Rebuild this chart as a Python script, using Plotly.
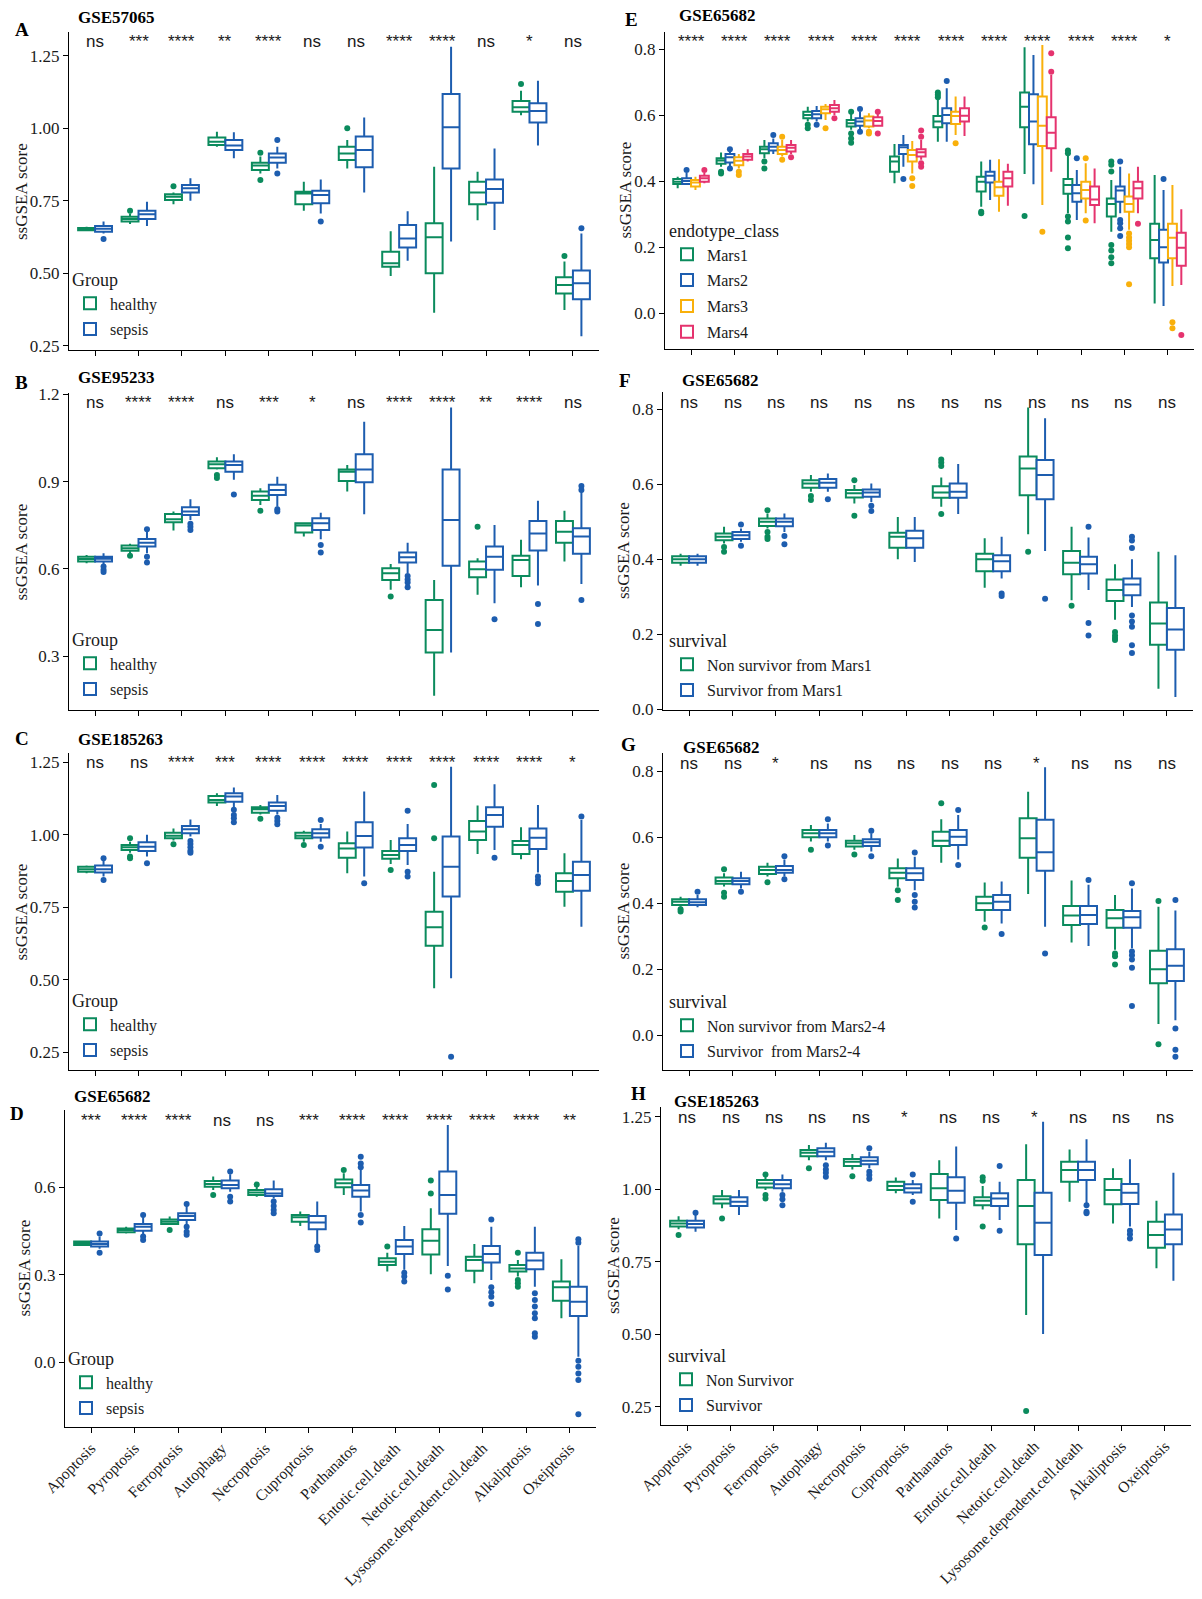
import plotly.graph_objects as go

# ---------------------------------------------------------------- data
CATEGORIES = ["Apoptosis", "Pyroptosis", "Ferroptosis", "Autophagy", "Necroptosis",
              "Cuproptosis", "Parthanatos", "Entotic.cell.death", "Netotic.cell.death",
              "Lysosome.dependent.cell.death", "Alkaliptosis", "Oxeiptosis"]

# each row: [lower whisker, q1, median, q3, upper whisker] for one category
A_healthy = [[0.645, 0.648, 0.652, 0.656, 0.660], [0.670, 0.678, 0.687, 0.695, 0.706],
             [0.738, 0.752, 0.764, 0.772, 0.778], [0.936, 0.942, 0.953, 0.968, 0.988],
             [0.844, 0.856, 0.871, 0.881, 0.902], [0.715, 0.738, 0.775, 0.781, 0.815],
             [0.861, 0.890, 0.913, 0.936, 0.959], [0.490, 0.522, 0.534, 0.574, 0.645],
             [0.364, 0.500, 0.624, 0.672, 0.867], [0.683, 0.738, 0.778, 0.815, 0.850],
             [1.045, 1.057, 1.072, 1.094, 1.129], [0.373, 0.430, 0.459, 0.486, 0.540]]
A_healthy_out = [(1, 0.715), (2, 0.800), (4, 0.915), (4, 0.821), (6, 1.000), (10, 1.152), (11, 0.559)]
A_sepsis = [[0.637, 0.643, 0.653, 0.663, 0.678], [0.663, 0.687, 0.703, 0.715, 0.746],
            [0.750, 0.778, 0.793, 0.804, 0.827], [0.896, 0.925, 0.940, 0.959, 0.986],
            [0.861, 0.881, 0.899, 0.913, 0.936], [0.706, 0.741, 0.770, 0.784, 0.823],
            [0.778, 0.865, 0.925, 0.971, 1.037], [0.543, 0.589, 0.620, 0.666, 0.714],
            [0.609, 0.861, 1.003, 1.118, 1.281], [0.649, 0.743, 0.790, 0.823, 0.930],
            [0.940, 1.020, 1.059, 1.086, 1.164], [0.283, 0.410, 0.465, 0.509, 0.637]]
A_sepsis_out = [(0, 0.618), (4, 0.959), (4, 0.844), (5, 0.678), (11, 0.655)]
A_sig = ["ns", "***", "****", "**", "****", "ns", "ns", "****", "****", "ns", "*", "ns"]

B_healthy = [[0.619, 0.625, 0.634, 0.642, 0.648], [0.654, 0.662, 0.671, 0.680, 0.686],
             [0.732, 0.760, 0.771, 0.789, 0.797], [0.942, 0.946, 0.960, 0.969, 0.984],
             [0.820, 0.837, 0.851, 0.866, 0.877], [0.711, 0.725, 0.749, 0.757, 0.759],
             [0.866, 0.902, 0.934, 0.942, 0.957], [0.528, 0.562, 0.585, 0.602, 0.617],
             [0.164, 0.313, 0.390, 0.493, 0.562], [0.511, 0.571, 0.599, 0.625, 0.637],
             [0.537, 0.576, 0.631, 0.645, 0.700], [0.625, 0.690, 0.728, 0.765, 0.800]]
B_healthy_out = [(1, 0.645), (3, 0.923), (3, 0.912), (4, 0.800), (7, 0.505), (9, 0.745)]
B_sepsis = [[0.617, 0.625, 0.635, 0.642, 0.654], [0.654, 0.677, 0.690, 0.703, 0.736],
            [0.768, 0.785, 0.797, 0.812, 0.839], [0.906, 0.934, 0.957, 0.969, 0.994],
            [0.814, 0.854, 0.871, 0.889, 0.917], [0.702, 0.734, 0.757, 0.774, 0.793],
            [0.788, 0.898, 0.942, 0.994, 1.106], [0.585, 0.622, 0.640, 0.656, 0.690],
            [0.313, 0.611, 0.768, 0.942, 1.155], [0.482, 0.597, 0.642, 0.677, 0.751],
            [0.543, 0.663, 0.722, 0.765, 0.834], [0.548, 0.652, 0.711, 0.740, 0.871]]
B_sepsis_out = [(0, 0.608), (0, 0.597), (0, 0.589), (1, 0.642), (1, 0.622), (1, 0.736),
                (2, 0.755), (2, 0.745), (2, 0.734), (3, 0.856), (4, 0.805), (4, 0.797),
                (5, 0.682), (5, 0.656), (7, 0.576), (7, 0.564), (7, 0.553), (7, 0.537),
                (9, 0.427), (10, 0.479), (10, 0.411), (11, 0.885), (11, 0.871), (11, 0.493)]
B_sig = ["ns", "****", "****", "ns", "***", "*", "ns", "****", "****", "**", "****", "ns"]

C_healthy = [[0.867, 0.873, 0.881, 0.890, 0.894], [0.938, 0.948, 0.957, 0.965, 0.976],
             [0.980, 0.988, 0.997, 1.007, 1.022], [1.099, 1.111, 1.120, 1.134, 1.143],
             [1.070, 1.076, 1.088, 1.095, 1.103], [0.976, 0.988, 0.997, 1.007, 1.014],
             [0.867, 0.921, 0.953, 0.971, 1.011], [0.899, 0.917, 0.930, 0.944, 0.982],
             [0.471, 0.617, 0.681, 0.735, 0.873], [0.934, 0.982, 1.011, 1.048, 1.101],
             [0.916, 0.934, 0.965, 0.979, 1.026], [0.752, 0.804, 0.841, 0.867, 0.936]]
C_healthy_out = [(1, 0.988), (1, 0.925), (1, 0.919), (2, 0.967), (4, 1.055), (5, 0.965),
                 (7, 0.879), (8, 1.172), (8, 0.988)]
C_sepsis = [[0.856, 0.870, 0.881, 0.894, 0.913], [0.925, 0.944, 0.959, 0.974, 1.000],
            [0.994, 1.005, 1.019, 1.030, 1.053], [1.095, 1.114, 1.132, 1.143, 1.163],
            [1.070, 1.083, 1.099, 1.111, 1.137], [0.976, 0.991, 1.005, 1.019, 1.037],
            [0.856, 0.956, 0.996, 1.043, 1.149], [0.896, 0.944, 0.965, 0.988, 1.037],
            [0.505, 0.787, 0.890, 0.994, 1.235], [0.948, 1.028, 1.068, 1.095, 1.174],
            [0.870, 0.951, 0.990, 1.022, 1.103], [0.683, 0.807, 0.861, 0.907, 1.051]]
C_sepsis_out = [(0, 0.919), (0, 0.844), (1, 0.902), (2, 0.979), (2, 0.968), (2, 0.957),
                (2, 0.945), (2, 0.938), (3, 1.086), (3, 1.068), (3, 1.057), (3, 1.043),
                (4, 1.059), (4, 1.048), (4, 1.036), (5, 1.051), (5, 0.959), (6, 0.833),
                (7, 1.083), (7, 0.873), (7, 0.856), (8, 0.235), (9, 0.921), (10, 0.856),
                (10, 0.844), (10, 0.833), (11, 1.063)]
C_sig = ["ns", "ns", "****", "***", "****", "****", "****", "****", "****", "****", "****", "*"]

D_healthy = [[0.400, 0.402, 0.408, 0.414, 0.417], [0.442, 0.446, 0.454, 0.459, 0.465],
             [0.471, 0.474, 0.482, 0.490, 0.500], [0.591, 0.602, 0.611, 0.622, 0.637],
             [0.568, 0.574, 0.582, 0.591, 0.602], [0.467, 0.482, 0.497, 0.505, 0.517],
             [0.574, 0.600, 0.614, 0.627, 0.648], [0.311, 0.334, 0.345, 0.357, 0.376],
             [0.302, 0.370, 0.417, 0.456, 0.528], [0.271, 0.314, 0.351, 0.362, 0.406],
             [0.294, 0.311, 0.322, 0.334, 0.351], [0.151, 0.211, 0.257, 0.277, 0.353]]
D_healthy_out = [(2, 0.454), (3, 0.574), (4, 0.610), (6, 0.659), (7, 0.397), (8, 0.623),
                 (8, 0.579), (10, 0.376), (10, 0.282), (10, 0.271), (10, 0.259)]
D_sepsis = [[0.389, 0.397, 0.406, 0.414, 0.431], [0.440, 0.451, 0.465, 0.474, 0.497],
            [0.474, 0.488, 0.502, 0.511, 0.536], [0.585, 0.597, 0.608, 0.623, 0.645],
            [0.562, 0.570, 0.579, 0.593, 0.623], [0.402, 0.456, 0.479, 0.502, 0.551],
            [0.517, 0.568, 0.589, 0.608, 0.659], [0.317, 0.371, 0.397, 0.419, 0.467],
            [0.330, 0.509, 0.574, 0.654, 0.814], [0.282, 0.342, 0.371, 0.399, 0.465],
            [0.259, 0.319, 0.349, 0.376, 0.465], [0.019, 0.159, 0.208, 0.259, 0.399]]
D_sepsis_out = [(0, 0.442), (0, 0.376), (1, 0.505), (1, 0.431), (1, 0.419), (2, 0.543),
                (2, 0.465), (2, 0.448), (2, 0.437), (3, 0.654), (3, 0.568), (3, 0.551),
                (4, 0.551), (4, 0.536), (4, 0.522), (4, 0.511), (5, 0.397), (5, 0.385),
                (6, 0.705), (6, 0.682), (6, 0.669), (6, 0.505), (6, 0.479), (7, 0.307),
                (7, 0.294), (7, 0.277), (8, 0.297), (8, 0.250), (9, 0.490), (9, 0.257),
                (9, 0.240), (9, 0.225), (9, 0.200), (10, 0.237), (10, 0.214), (10, 0.191),
                (10, 0.168), (10, 0.151), (10, 0.100), (10, 0.088), (11, 0.422), (11, 0.410),
                (11, 0.005), (11, -0.015), (11, -0.038), (11, -0.061), (11, -0.178)]
D_sig = ["***", "****", "****", "ns", "ns", "***", "****", "****", "****", "****", "****", "**"]

E_mars1 = [[0.379, 0.392, 0.399, 0.407, 0.414], [0.444, 0.453, 0.463, 0.470, 0.487],
           [0.470, 0.485, 0.497, 0.505, 0.525], [0.581, 0.591, 0.601, 0.611, 0.626],
           [0.556, 0.566, 0.576, 0.586, 0.606], [0.394, 0.429, 0.460, 0.475, 0.513],
           [0.520, 0.564, 0.581, 0.598, 0.646], [0.323, 0.369, 0.399, 0.414, 0.460],
           [0.422, 0.564, 0.626, 0.669, 0.806], [0.303, 0.362, 0.389, 0.407, 0.477],
           [0.247, 0.293, 0.331, 0.348, 0.404], [0.030, 0.167, 0.222, 0.271, 0.419]]
E_mars1_out = [(1, 0.429), (1, 0.424), (2, 0.460), (2, 0.439), (3, 0.571), (3, 0.561),
               (4, 0.611), (4, 0.545), (4, 0.530), (4, 0.517), (6, 0.669), (6, 0.662),
               (6, 0.655), (7, 0.308), (7, 0.303), (8, 0.295), (9, 0.493), (9, 0.485),
               (9, 0.293), (9, 0.278), (9, 0.230), (9, 0.197), (10, 0.460), (10, 0.450),
               (10, 0.430), (10, 0.207), (10, 0.190), (10, 0.170), (10, 0.152)]
E_mars2 = [[0.389, 0.392, 0.401, 0.409, 0.425], [0.444, 0.457, 0.473, 0.483, 0.490],
           [0.483, 0.493, 0.505, 0.515, 0.530], [0.581, 0.591, 0.603, 0.613, 0.628],
           [0.556, 0.568, 0.581, 0.591, 0.610], [0.444, 0.483, 0.503, 0.510, 0.540],
           [0.520, 0.576, 0.601, 0.621, 0.682], [0.343, 0.396, 0.417, 0.429, 0.465],
           [0.391, 0.512, 0.581, 0.664, 0.783], [0.283, 0.338, 0.364, 0.389, 0.434],
           [0.303, 0.338, 0.372, 0.384, 0.444], [0.022, 0.154, 0.200, 0.253, 0.374]]
E_mars2_out = [(0, 0.434), (1, 0.497), (1, 0.439), (2, 0.540), (3, 0.571), (4, 0.619),
               (4, 0.550), (5, 0.407), (6, 0.704), (9, 0.470), (10, 0.460), (10, 0.283),
               (10, 0.273), (10, 0.258), (10, 0.234), (11, 0.407)]
E_mars3 = [[0.374, 0.384, 0.396, 0.404, 0.414], [0.439, 0.449, 0.462, 0.473, 0.483],
           [0.475, 0.483, 0.495, 0.505, 0.525], [0.586, 0.606, 0.618, 0.626, 0.634],
           [0.561, 0.566, 0.584, 0.596, 0.606], [0.424, 0.460, 0.480, 0.495, 0.522],
           [0.540, 0.574, 0.598, 0.611, 0.657], [0.308, 0.356, 0.382, 0.399, 0.467],
           [0.328, 0.507, 0.568, 0.657, 0.813], [0.303, 0.348, 0.374, 0.399, 0.455],
           [0.253, 0.308, 0.331, 0.354, 0.424], [0.083, 0.167, 0.229, 0.271, 0.389]]
E_mars3_out = [(1, 0.429), (1, 0.419), (2, 0.535), (2, 0.465), (3, 0.561), (4, 0.550),
               (4, 0.545), (5, 0.409), (5, 0.386), (6, 0.515), (8, 0.247), (9, 0.470),
               (9, 0.281), (10, 0.242), (10, 0.230), (10, 0.220), (10, 0.210), (10, 0.200),
               (10, 0.088), (11, -0.027), (11, -0.045)]
E_mars4 = [[0.394, 0.399, 0.409, 0.417, 0.425], [0.460, 0.465, 0.475, 0.483, 0.497],
           [0.483, 0.490, 0.502, 0.510, 0.525], [0.601, 0.611, 0.621, 0.631, 0.646],
           [0.566, 0.568, 0.583, 0.594, 0.606], [0.465, 0.475, 0.488, 0.497, 0.525],
           [0.537, 0.581, 0.599, 0.621, 0.657], [0.326, 0.384, 0.409, 0.429, 0.453],
           [0.429, 0.500, 0.547, 0.594, 0.722], [0.273, 0.328, 0.345, 0.384, 0.439],
           [0.303, 0.348, 0.379, 0.399, 0.444], [0.086, 0.144, 0.199, 0.244, 0.315]]
E_mars4_out = [(0, 0.434), (2, 0.473), (3, 0.591), (4, 0.611), (4, 0.545), (5, 0.554),
               (5, 0.535), (5, 0.455), (5, 0.444), (8, 0.788), (8, 0.732), (10, 0.271),
               (11, -0.066)]
E_sig = ["****"] * 11 + ["*"]

F_non = [[0.383, 0.391, 0.400, 0.408, 0.415], [0.442, 0.451, 0.460, 0.469, 0.487],
         [0.482, 0.489, 0.500, 0.509, 0.522], [0.580, 0.591, 0.602, 0.611, 0.625],
         [0.549, 0.565, 0.576, 0.585, 0.598], [0.400, 0.431, 0.460, 0.471, 0.513],
         [0.540, 0.564, 0.578, 0.595, 0.618], [0.324, 0.368, 0.400, 0.415, 0.456],
         [0.467, 0.571, 0.642, 0.674, 0.805], [0.291, 0.360, 0.391, 0.422, 0.487],
         [0.239, 0.289, 0.318, 0.346, 0.387], [0.055, 0.172, 0.229, 0.285, 0.420]]
F_non_out = [(1, 0.433), (1, 0.420), (2, 0.531), (2, 0.473), (2, 0.460), (2, 0.454),
             (3, 0.569), (3, 0.558), (4, 0.611), (4, 0.516), (6, 0.666), (6, 0.658),
             (6, 0.649), (6, 0.521), (8, 0.420), (9, 0.276), (10, 0.206), (10, 0.197),
             (10, 0.190), (10, 0.185)]
F_surv = [[0.383, 0.391, 0.400, 0.408, 0.415], [0.447, 0.454, 0.464, 0.473, 0.482],
          [0.473, 0.488, 0.500, 0.509, 0.522], [0.580, 0.591, 0.604, 0.614, 0.629],
          [0.553, 0.567, 0.578, 0.586, 0.602], [0.393, 0.431, 0.456, 0.476, 0.513],
          [0.521, 0.564, 0.580, 0.602, 0.654], [0.349, 0.368, 0.395, 0.411, 0.460],
          [0.422, 0.560, 0.625, 0.665, 0.776], [0.318, 0.362, 0.387, 0.407, 0.458],
          [0.273, 0.304, 0.333, 0.349, 0.400], [0.033, 0.159, 0.213, 0.270, 0.411]]
F_surv_out = [(1, 0.493), (1, 0.436), (2, 0.462), (2, 0.440), (3, 0.560), (4, 0.543),
              (4, 0.529), (7, 0.309), (7, 0.302), (8, 0.295), (9, 0.487), (9, 0.230),
              (9, 0.197), (10, 0.460), (10, 0.450), (10, 0.430), (10, 0.250), (10, 0.234),
              (10, 0.220), (10, 0.171), (10, 0.150)]
F_sig = ["ns"] * 12

G_non = [[0.389, 0.394, 0.404, 0.411, 0.419], [0.450, 0.458, 0.467, 0.477, 0.490],
         [0.480, 0.488, 0.500, 0.510, 0.522], [0.586, 0.599, 0.611, 0.621, 0.636],
         [0.561, 0.571, 0.581, 0.589, 0.606], [0.449, 0.475, 0.492, 0.505, 0.535],
         [0.522, 0.573, 0.589, 0.616, 0.654], [0.343, 0.379, 0.399, 0.419, 0.462],
         [0.427, 0.537, 0.596, 0.657, 0.737], [0.280, 0.333, 0.362, 0.391, 0.468],
         [0.258, 0.325, 0.354, 0.379, 0.424], [0.033, 0.157, 0.199, 0.255, 0.389]]
G_non_out = [(0, 0.381), (0, 0.374), (1, 0.502), (1, 0.431), (1, 0.419), (2, 0.463),
             (3, 0.561), (4, 0.547), (5, 0.439), (5, 0.409), (6, 0.702), (7, 0.326),
             (10, 0.247), (10, 0.239), (10, 0.214), (11, 0.406), (11, -0.028)]
G_surv = [[0.387, 0.394, 0.402, 0.411, 0.424], [0.444, 0.457, 0.467, 0.475, 0.495],
          [0.480, 0.492, 0.500, 0.512, 0.532], [0.586, 0.599, 0.611, 0.621, 0.641],
          [0.556, 0.573, 0.584, 0.593, 0.611], [0.439, 0.470, 0.490, 0.505, 0.540],
          [0.532, 0.576, 0.601, 0.621, 0.667], [0.338, 0.379, 0.404, 0.424, 0.465],
          [0.328, 0.498, 0.554, 0.652, 0.811], [0.270, 0.336, 0.364, 0.391, 0.455],
          [0.263, 0.325, 0.357, 0.376, 0.444], [0.045, 0.164, 0.210, 0.260, 0.377]]
G_surv_out = [(0, 0.434), (1, 0.434), (2, 0.542), (2, 0.472), (3, 0.654), (3, 0.574),
              (4, 0.619), (4, 0.542), (5, 0.553), (5, 0.424), (5, 0.404), (5, 0.386),
              (6, 0.682), (6, 0.515), (7, 0.306), (8, 0.247), (9, 0.470), (10, 0.460),
              (10, 0.253), (10, 0.242), (10, 0.229), (10, 0.204), (10, 0.088), (11, 0.409),
              (11, 0.020), (11, -0.045), (11, -0.066)]
G_sig = ["ns", "ns", "*", "ns", "ns", "ns", "ns", "ns", "*", "ns", "ns", "ns"]

H_non = [[0.862, 0.871, 0.882, 0.891, 0.907], [0.934, 0.951, 0.965, 0.976, 0.997],
         [0.997, 1.006, 1.020, 1.032, 1.043], [1.100, 1.114, 1.126, 1.135, 1.152],
         [1.068, 1.080, 1.095, 1.104, 1.121], [0.986, 0.997, 1.011, 1.026, 1.040],
         [0.899, 0.963, 1.003, 1.052, 1.100], [0.930, 0.945, 0.960, 0.972, 1.011],
         [0.566, 0.810, 0.942, 1.032, 1.155], [0.957, 1.026, 1.066, 1.095, 1.137],
         [0.882, 0.948, 0.997, 1.035, 1.072], [0.727, 0.798, 0.842, 0.888, 0.960]]
H_non_out = [(0, 0.842), (1, 0.899), (2, 1.051), (2, 0.980), (2, 0.968), (3, 1.072),
             (4, 1.045), (7, 1.041), (7, 1.029), (7, 0.871), (8, 0.235)]
H_surv = [[0.853, 0.868, 0.880, 0.891, 0.911], [0.911, 0.942, 0.957, 0.972, 0.997],
          [0.991, 1.003, 1.017, 1.032, 1.051], [1.100, 1.114, 1.129, 1.141, 1.160],
          [1.072, 1.086, 1.098, 1.110, 1.129], [0.980, 0.989, 1.003, 1.017, 1.032],
          [0.859, 0.953, 0.995, 1.041, 1.147], [0.894, 0.942, 0.968, 0.986, 1.026],
          [0.501, 0.773, 0.884, 0.988, 1.233], [0.949, 1.032, 1.066, 1.095, 1.172],
          [0.871, 0.949, 0.988, 1.018, 1.103], [0.684, 0.810, 0.861, 0.913, 1.057]]
H_surv_out = [(0, 0.919), (2, 0.980), (2, 0.965), (2, 0.945), (3, 1.083), (3, 1.068),
              (3, 1.057), (3, 1.043), (4, 1.141), (4, 1.060), (4, 1.049), (4, 1.036),
              (5, 1.051), (5, 0.957), (6, 0.830), (7, 1.080), (7, 0.857), (9, 0.945),
              (9, 0.922), (9, 0.917), (10, 0.857), (10, 0.845), (10, 0.830)]
H_sig = ["ns", "ns", "ns", "ns", "ns", "*", "ns", "ns", "*", "ns", "ns", "ns"]

# ---------------------------------------------------------------- style
GREEN, BLUE, YELLOW, PINK = "#0B8B5D", "#1D5DAF", "#F9B00B", "#E5336E"
SERIF, SANS = "Liberation Serif", "Liberation Sans"
TXT = "#1a1a1a"
W, H = 1202, 1599

ticks_025 = [0.25, 0.50, 0.75, 1.00, 1.25]
ticks_03 = [0.3, 0.6, 0.9, 1.2]
ticks_D = [0.0, 0.3, 0.6]
ticks_02 = [0.0, 0.2, 0.4, 0.6, 0.8]

PANELS = [
    dict(letter="A", title="GSE57065", x0=69, x1=599, top=32, bot=350, rv=1.25, rp=55.7, ppu=290,
         yt=ticks_025, fmt="{:.2f}", sigy=42, labs=False, ytitle_x=21,
         letter_pos=(13, 30), title_pos=(76, 17), leg_title="Group", leg_pos=(70, 263),
         groups=[("healthy", A_healthy, A_healthy_out, GREEN), ("sepsis", A_sepsis, A_sepsis_out, BLUE)],
         sig=A_sig),
    dict(letter="B", title="GSE95233", x0=69, x1=599, top=393, bot=710, rv=1.2, rp=394.3, ppu=291,
         yt=ticks_03, fmt="{:.1f}", sigy=402, labs=False, ytitle_x=21,
         letter_pos=(13, 383), title_pos=(76, 377), leg_title="Group", leg_pos=(70, 623),
         groups=[("healthy", B_healthy, B_healthy_out, GREEN), ("sepsis", B_sepsis, B_sepsis_out, BLUE)],
         sig=B_sig),
    dict(letter="C", title="GSE185263", x0=69, x1=599, top=753, bot=1070, rv=1.25, rp=762.3, ppu=290,
         yt=ticks_025, fmt="{:.2f}", sigy=762, labs=False, ytitle_x=21,
         letter_pos=(13, 738), title_pos=(76, 739), leg_title="Group", leg_pos=(70, 984),
         groups=[("healthy", C_healthy, C_healthy_out, GREEN), ("sepsis", C_sepsis, C_sepsis_out, BLUE)],
         sig=C_sig),
    dict(letter="D", title="GSE65682", x0=65, x1=596, top=1110, bot=1427, rv=0.6, rp=1187.3, ppu=291.7,
         yt=ticks_D, fmt="{:.1f}", sigy=1120, labs=True, ytitle_x=24,
         letter_pos=(8, 1113), title_pos=(72, 1096), leg_title="Group", leg_pos=(66, 1342),
         groups=[("healthy", D_healthy, D_healthy_out, GREEN), ("sepsis", D_sepsis, D_sepsis_out, BLUE)],
         sig=D_sig),
    dict(letter="E", title="GSE65682", x0=665, x1=1194, top=32, bot=349, rv=0.8, rp=49.3, ppu=330,
         yt=ticks_02, fmt="{:.1f}", sigy=41, labs=False, ytitle_x=625,
         letter_pos=(623, 20), title_pos=(677, 16), leg_title="endotype_class", leg_pos=(667, 214),
         groups=[("Mars1", E_mars1, E_mars1_out, GREEN), ("Mars2", E_mars2, E_mars2_out, BLUE),
                 ("Mars3", E_mars3, E_mars3_out, YELLOW), ("Mars4", E_mars4, E_mars4_out, PINK)],
         sig=E_sig),
    dict(letter="F", title="GSE65682", x0=663, x1=1193, top=392, bot=710, rv=0.8, rp=409.3, ppu=375,
         yt=ticks_02, fmt="{:.1f}", sigy=403, labs=False, ytitle_x=623,
         letter_pos=(617, 380), title_pos=(680, 380), leg_title="survival", leg_pos=(667, 624),
         groups=[("Non survivor from Mars1", F_non, F_non_out, GREEN),
                 ("Survivor from Mars1", F_surv, F_surv_out, BLUE)],
         sig=F_sig),
    dict(letter="G", title="GSE65682", x0=663, x1=1193, top=753, bot=1070, rv=0.8, rp=771, ppu=330,
         yt=ticks_02, fmt="{:.1f}", sigy=763, labs=False, ytitle_x=623,
         letter_pos=(619, 744), title_pos=(681, 747), leg_title="survival", leg_pos=(667, 985),
         groups=[("Non survivor from Mars2-4", G_non, G_non_out, GREEN),
                 ("Survivor  from Mars2-4", G_surv, G_surv_out, BLUE)],
         sig=G_sig),
    dict(letter="H", title="GSE185263", x0=661, x1=1191, top=1107, bot=1425, rv=1.25, rp=1116.7, ppu=290,
         yt=ticks_025, fmt="{:.2f}", sigy=1117, labs=True, ytitle_x=613,
         letter_pos=(629, 1093), title_pos=(672, 1101), leg_title="survival", leg_pos=(666, 1339),
         groups=[("Non Survivor", H_non, H_non_out, GREEN), ("Survivor", H_surv, H_surv_out, BLUE)],
         sig=H_sig),
]


def py(y):
    return 1 - y / H


def px(x):
    return x / W


fig = go.Figure()
layout = dict(width=W, height=H, margin=dict(l=0, r=0, t=0, b=0, autoexpand=False),
              paper_bgcolor="white", plot_bgcolor="white", showlegend=True,
              boxmode="overlay", annotations=[])

for n, p in enumerate(PANELS, start=1):
    sfx = "" if n == 1 else str(n)
    xa, ya = "x" + sfx, "y" + sfx
    leg = "legend" + sfx
    ng = len(p["groups"])
    bw = 0.39 if ng == 2 else 0.205
    offsets = [(-(ng - 1) / 2 + k) * bw for k in range(ng)]
    for k, (name, stats, outs, col) in enumerate(p["groups"]):
        xs = [i + offsets[k] for i in range(len(CATEGORIES))]
        fig.add_trace(go.Box(
            x=xs, lowerfence=[r[0] for r in stats], q1=[r[1] for r in stats],
            median=[r[2] for r in stats], q3=[r[3] for r in stats],
            upperfence=[r[4] for r in stats], width=bw, whiskerwidth=0,
            boxpoints=False, name=name, legend=leg, legendgroup=p["letter"] + name,
            line=dict(color=col, width=2), fillcolor="white",
            xaxis=xa, yaxis=ya, hoverinfo="skip"))
        fig.add_trace(go.Scatter(
            x=[c + offsets[k] for c, v in outs], y=[v for c, v in outs],
            mode="markers", marker=dict(color=col, size=6), showlegend=False,
            xaxis=xa, yaxis=ya, hoverinfo="skip"))
    lo = p["rv"] + (p["rp"] - p["bot"]) / p["ppu"]
    hi = p["rv"] + (p["rp"] - p["top"]) / p["ppu"]
    layout["xaxis" + sfx] = dict(
        domain=[px(p["x0"]), px(p["x1"])], anchor=ya, range=[-0.6, 11.6], automargin=False,
        tickmode="array", tickvals=list(range(12)), ticktext=CATEGORIES,
        showticklabels=p["labs"], tickangle=-45, ticks="outside", ticklen=5,
        tickwidth=1.2, tickcolor="black", showline=True, linecolor="black",
        linewidth=1.4, showgrid=False, zeroline=False,
        tickfont=dict(family=SERIF, size=15.5, color=TXT))
    layout["yaxis" + sfx] = dict(
        domain=[py(p["bot"]), py(p["top"])], anchor=xa, range=[lo, hi], automargin=False,
        tickmode="array", tickvals=p["yt"], ticktext=[p["fmt"].format(v) for v in p["yt"]],
        ticks="outside", ticklen=5, tickwidth=1.2, tickcolor="black",
        showline=True, linecolor="black", linewidth=1.4, showgrid=False, zeroline=False,
        tickfont=dict(family=SERIF, size=17, color=TXT))
    layout[leg] = dict(
        x=px(p["leg_pos"][0]), y=py(p["leg_pos"][1]), xanchor="left", yanchor="top",
        bgcolor="rgba(0,0,0,0)", tracegroupgap=2,
        title=dict(text=p["leg_title"], font=dict(family=SERIF, size=18, color=TXT)),
        font=dict(family=SERIF, size=16, color=TXT))
    ann = layout["annotations"]
    for i, s in enumerate(p["sig"]):
        ann.append(dict(x=i, y=py(p["sigy"]), xref=xa, yref="paper", text=s, showarrow=False,
                        xanchor="center", yanchor="middle",
                        font=dict(family=SANS, size=17, color=TXT)))
    ann.append(dict(x=px(p["ytitle_x"]), y=py((p["top"] + p["bot"]) / 2), xref="paper",
                    yref="paper", text="ssGSEA score", textangle=-90, showarrow=False,
                    xanchor="center", yanchor="middle",
                    font=dict(family=SERIF, size=17, color=TXT)))
    ann.append(dict(x=px(p["title_pos"][0]), y=py(p["title_pos"][1]), xref="paper", yref="paper",
                    text="<b>" + p["title"] + "</b>", showarrow=False, xanchor="left",
                    yanchor="middle", font=dict(family=SERIF, size=17, color="black")))
    ann.append(dict(x=px(p["letter_pos"][0]), y=py(p["letter_pos"][1]), xref="paper", yref="paper",
                    text="<b>" + p["letter"] + "</b>", showarrow=False, xanchor="left",
                    yanchor="middle", font=dict(family=SERIF, size=19, color="black")))

fig.update_layout(**layout)
fig.write_html("out.html")
